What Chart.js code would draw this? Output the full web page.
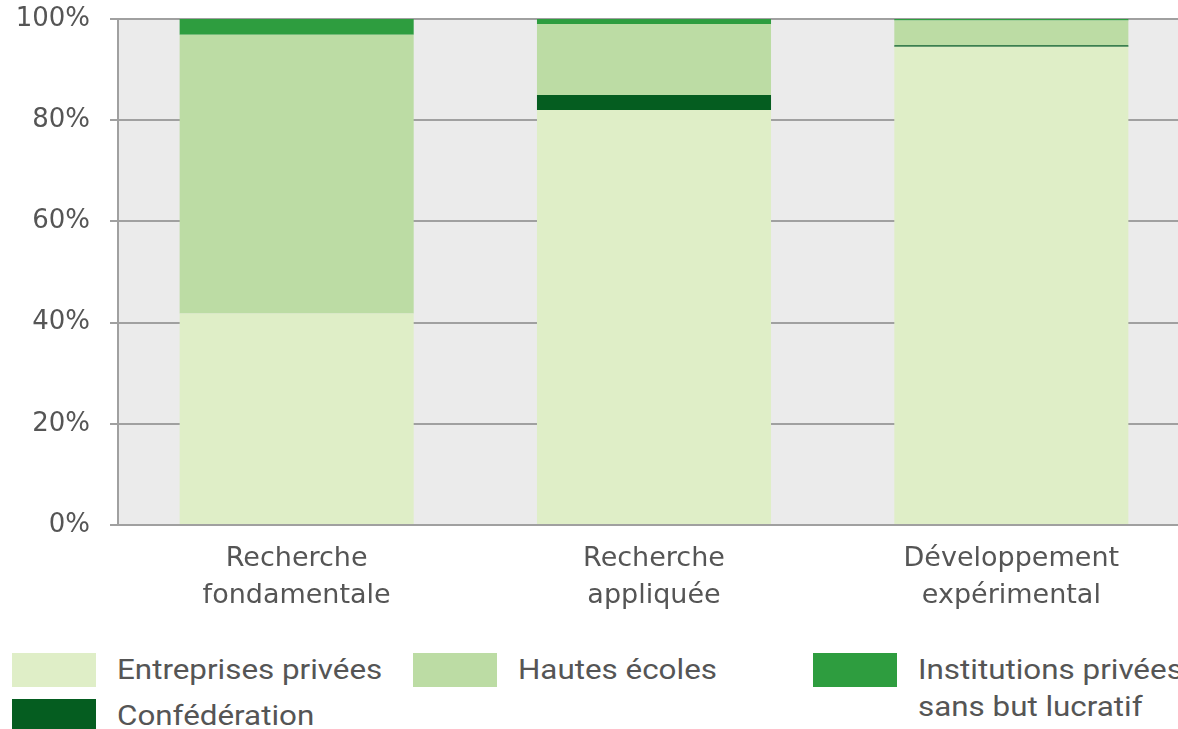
<!DOCTYPE html>
<html><head><meta charset="utf-8">
<script src="https://cdn.jsdelivr.net/npm/chart.js@4/dist/chart.umd.min.js"></script>
<style>
html,body{margin:0;padding:0;background:#fff;overflow:hidden;width:1178px;height:729px}
#wrap{position:absolute;left:0;top:0;width:1190px;height:640px}
.leg{position:absolute;font-family:Roboto,sans-serif;font-size:28px;color:#555;line-height:37px;white-space:nowrap;transform:scaleX(1.12);transform-origin:0 0}
.box{position:absolute;width:84px;height:34px}
</style></head>
<body>
<div id="wrap"><canvas id="c"></canvas></div>
<div id="legend"></div>
<script>
const categories = [["Recherche","fondamentale"],["Recherche","appliquée"],["Développement","expérimental"]];
const entreprises = [41.8, 82.0, 94.5];
const confederation = [0, 3.0, 0.3];
const hautesEcoles = [55.1, 14.0, 4.9];
const institutions = [3.1, 1.0, 0.3];
const yTicks = [0, 20, 40, 60, 80, 100];
const seriesNames = ["Entreprises privées","Hautes écoles","Institutions privées\nsans but lucratif","Confédération"];
const colors = {ent:"#dfeec7", haut:"#bcdca4", inst:"#2e9d3f", conf:"#055d20"};

const bgPlugin = {id:"bg", beforeDraw(chart){const a=chart.chartArea,ctx=chart.ctx;ctx.save();ctx.fillStyle="#ebebeb";ctx.fillRect(a.left,a.top,a.right-a.left,a.bottom-a.top);ctx.restore();}};

const common = {barPercentage:0.655, categoryPercentage:1, borderWidth:0};
new Chart(document.getElementById("c"), {
  type:"bar",
  data:{labels:categories, datasets:[
    {label:seriesNames[0], data:entreprises, backgroundColor:colors.ent, ...common},
    {label:seriesNames[3], data:confederation, backgroundColor:colors.conf, ...common},
    {label:seriesNames[1], data:hautesEcoles, backgroundColor:colors.haut, ...common},
    {label:seriesNames[2], data:institutions, backgroundColor:colors.inst, ...common}
  ]},
  options:{
    responsive:true, maintainAspectRatio:false, animation:false,
    layout:{padding:{top:19,left:0,right:0,bottom:0}},
    plugins:{legend:{display:false}, tooltip:{enabled:false}},
    scales:{
      x:{stacked:true, grid:{display:false}, border:{display:false},
         ticks:{color:"#555", font:{family:"DejaVu Sans", size:27, lineHeight:1.38}, padding:7, maxRotation:0},
         afterFit(s){s.height=115;s.paddingLeft=0;s.paddingRight=0;}},
      y:{stacked:true, min:0, max:100,
         afterBuildTicks(s){s.ticks=yTicks.map(v=>({value:v}));},
         grid:{color:"#a0a0a0", lineWidth:2, tickLength:8},
         border:{color:"#a0a0a0", width:2},
         ticks:{color:"#555", font:{family:"DejaVu Sans", size:26}, padding:20, callback:v=>v+"%"},
         afterFit(s){s.width=118;s.paddingTop=0;s.paddingBottom=0;}}
    }
  },
  plugins:[bgPlugin]
});

const legItems = [
  {t:"Entreprises privées", c:colors.ent, x:12, y:653},
  {t:"Hautes écoles", c:colors.haut, x:413, y:653},
  {t:"Institutions privées<br>sans but lucratif", c:colors.inst, x:813, y:653},
  {t:"Confédération", c:colors.conf, x:12, y:699}
];
const L = document.getElementById("legend");
legItems.forEach(it=>{
  const b=document.createElement("div");b.className="box";b.style.left=it.x+"px";b.style.top=it.y+"px";b.style.background=it.c;L.appendChild(b);
  const t=document.createElement("div");t.className="leg";t.style.left=(it.x+105)+"px";t.style.top=(it.y-2)+"px";t.innerHTML=it.t;L.appendChild(t);
});
</script>
</body></html>
